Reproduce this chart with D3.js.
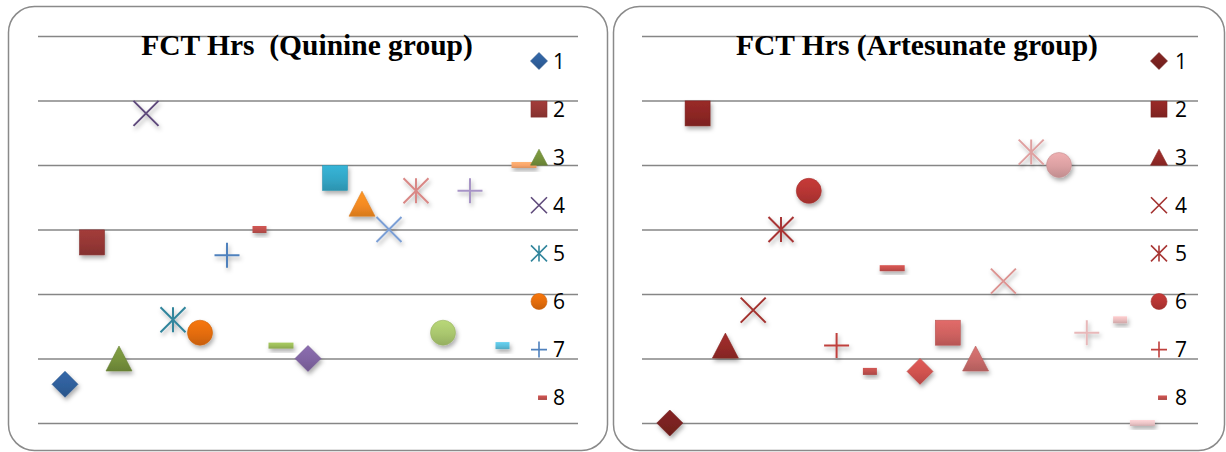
<!DOCTYPE html>
<html>
<head>
<meta charset="utf-8">
<script src="https://cdn.jsdelivr.net/npm/d3@7/dist/d3.min.js"></script>
<style>
  body { margin: 0; background: #fff; }
  svg { display: block; }
</style>
</head>
<body>
<svg id="chart" width="1226" height="452"></svg>
<script>
// Patient index along the x axis (one point per patient)
const pointIds = [1, 2, 3, 4, 5, 6, 7, 8, 9, 10, 11, 12, 13, 14, 15, 16, 17, 18];

// Fever clearance time (hours) per patient
const quinineHrs    = [6, 28, 10, 48, 16, 14, 26, 30, 12, 10, 38, 34, 30, 36, 14, 36, 12, 40];
const artesunateHrs = [0, 48, 12, 17.5, 30, 36, 12, 8, 24, 8, 14, 10, 22, 42, 40, 14, 16, 0];

// Horizontal gridline values
const gridTicks = [0, 10, 20, 30, 40, 50, 60];

// Legend entries shown beside each panel
const legendLabels = ["1", "2", "3", "4", "5", "6", "7", "8"];

// Marker shapes cycle through this list point by point
const markerCycle = ["diamond", "square", "triangle", "x", "star", "circle", "plus", "dot", "dash"];

// Per-point colours
const quinineColors = [
  "#2F5F9B", "#953735", "#76923C", "#5F4A7B", "#31859C", "#E36C0A",
  "#4F81BD", "#C0504D", "#9BBB59", "#8064A2", "#32A6C6", "#F48A22",
  "#7B9FD5", "#D98886", "#A9C66E", "#A794C6", "#5CBFDC", "#F9A56B"
];
const artesunateColors = [
  "#7A2220", "#8C2624", "#952A28", "#A2302E", "#A83634", "#B63533",
  "#BF403D", "#C0504D", "#C8504D", "#D0524F", "#CF6260", "#C96A69",
  "#DC9492", "#DFA0A0", "#DBA0A2", "#E8B8B9", "#E9BCBD", "#ECC5C7"
];

const svg = d3.select("#chart");
const defs = svg.append("defs");

// Soft drop shadow under plotted markers
const shadow = defs.append("filter")
  .attr("id", "mkShadow")
  .attr("x", "-60%").attr("y", "-60%")
  .attr("width", "220%").attr("height", "220%");
shadow.append("feDropShadow")
  .attr("dx", 1.5).attr("dy", 3)
  .attr("stdDeviation", 2)
  .attr("flood-color", "#000")
  .attr("flood-opacity", 0.32);

// Vertical gradient (light top, darker bottom) for filled markers
let gradCount = 0;
function gradientFill(color) {
  const id = "g" + (gradCount++);
  const c = d3.color(color);
  const lg = defs.append("linearGradient")
    .attr("id", id)
    .attr("x1", 0).attr("y1", 0).attr("x2", 0).attr("y2", 1);
  lg.append("stop").attr("offset", "0%").attr("stop-color", c.brighter(0.25).formatHex());
  lg.append("stop").attr("offset", "55%").attr("stop-color", c.formatHex());
  lg.append("stop").attr("offset", "100%").attr("stop-color", c.darker(0.35).formatHex());
  return "url(#" + id + ")";
}

// Draw one marker centred on the group's origin; s is the marker size
function drawMarker(g, type, s, color, lineW) {
  const h = s / 2;
  const edge = d3.color(color).darker(0.3).formatHex();
  switch (type) {
    case "diamond":
      g.append("path")
        .attr("d", `M0,${-h - 0.5}L${h + 0.5},0L0,${h + 0.5}L${-h - 0.5},0Z`)
        .attr("fill", gradientFill(color)).attr("stroke", edge).attr("stroke-width", 0.6);
      break;
    case "square":
      g.append("rect")
        .attr("x", -h).attr("y", -h).attr("width", s).attr("height", s)
        .attr("fill", gradientFill(color)).attr("stroke", edge).attr("stroke-width", 0.6);
      break;
    case "triangle":
      g.append("path")
        .attr("d", `M0,${-h}L${h + 0.5},${h}L${-h - 0.5},${h}Z`)
        .attr("fill", gradientFill(color)).attr("stroke", edge).attr("stroke-width", 0.6);
      break;
    case "circle":
      g.append("circle")
        .attr("r", h)
        .attr("fill", gradientFill(color)).attr("stroke", edge).attr("stroke-width", 0.6);
      break;
    case "x":
      g.append("path")
        .attr("d", `M${-h},${-h}L${h},${h}M${h},${-h}L${-h},${h}`)
        .attr("fill", "none").attr("stroke", color).attr("stroke-width", lineW);
      break;
    case "star":
      g.append("path")
        .attr("d", `M${-h},${-h}L${h},${h}M${h},${-h}L${-h},${h}M0,${-h}L0,${h}`)
        .attr("fill", "none").attr("stroke", color).attr("stroke-width", lineW);
      break;
    case "plus":
      g.append("path")
        .attr("d", `M${-h},0L${h},0M0,${-h}L0,${h}`)
        .attr("fill", "none").attr("stroke", color).attr("stroke-width", lineW);
      break;
    case "dot":
      g.append("rect")
        .attr("x", -0.06 * s).attr("y", -0.14 * s)
        .attr("width", 0.56 * s).attr("height", 0.28 * s)
        .attr("fill", gradientFill(color));
      break;
    case "dash":
      g.append("rect")
        .attr("x", -h).attr("y", -0.12 * s)
        .attr("width", s).attr("height", 0.24 * s)
        .attr("fill", gradientFill(color));
      break;
  }
}

const panels = [
  {
    title: "FCT Hrs  (Quinine group)",
    values: quinineHrs,
    colors: quinineColors,
    box: { x: 8, y: 6, w: 599, h: 444 },
    plot: { x0: 38, x1: 578, y0: 423, y1: 36 },
    titleX: 307,
    legend: { mx: 539, tx: 553 }
  },
  {
    title: "FCT Hrs (Artesunate group)",
    values: artesunateHrs,
    colors: artesunateColors,
    box: { x: 613, y: 6, w: 611, h: 444 },
    plot: { x0: 642, x1: 1198, y0: 423, y1: 36 },
    titleX: 917,
    legend: { mx: 1159, tx: 1175 }
  }
];

panels.forEach(p => {
  const g = svg.append("g");

  // Rounded chart frame
  g.append("rect")
    .attr("x", p.box.x + 0.5).attr("y", p.box.y + 0.5)
    .attr("width", p.box.w).attr("height", p.box.h)
    .attr("rx", 26).attr("ry", 26)
    .attr("fill", "#fff")
    .attr("stroke", "#8a8a8a").attr("stroke-width", 1.5);

  const x = d3.scaleLinear().domain([0, 20]).range([p.plot.x0, p.plot.x1]);
  const y = d3.scaleLinear().domain([0, 60]).range([p.plot.y0, p.plot.y1]);

  // Horizontal gridlines from the y axis
  const grid = g.append("g")
    .attr("transform", `translate(${p.plot.x0},0)`)
    .call(d3.axisLeft(y).tickValues(gridTicks).tickFormat("").tickSize(-(p.plot.x1 - p.plot.x0)));
  grid.select(".domain").remove();
  grid.selectAll(".tick line").attr("stroke", "#868686").attr("stroke-width", 1.6);

  // Title
  g.append("text")
    .attr("x", p.titleX).attr("y", 55)
    .attr("text-anchor", "middle")
    .style("white-space", "pre")
    .attr("font-family", "'Liberation Serif', 'Times New Roman', serif")
    .attr("font-weight", "bold")
    .attr("font-size", 29.5)
    .attr("fill", "#000")
    .text(p.title);

  // Data points
  const pts = g.append("g");
  pointIds.forEach((id, i) => {
    const mg = pts.append("g")
      .attr("transform", `translate(${x(id)},${y(p.values[i])})`)
      .attr("filter", "url(#mkShadow)");
    drawMarker(mg, markerCycle[i % markerCycle.length], 25, p.colors[i], 2);
  });

  // Legend
  const lg = g.append("g");
  legendLabels.forEach((lab, i) => {
    const cy = 61 + i * 48.1;
    const mg = lg.append("g").attr("transform", `translate(${p.legend.mx},${cy})`);
    drawMarker(mg, markerCycle[i], 16, p.colors[i], 1.6);
    lg.append("text")
      .attr("x", p.legend.tx).attr("y", cy + 7.5)
      .attr("font-family", "'Open Sans', 'Liberation Sans', sans-serif")
      .attr("font-size", 21)
      .attr("fill", "#000")
      .text(lab);
  });
});
</script>
</body>
</html>
